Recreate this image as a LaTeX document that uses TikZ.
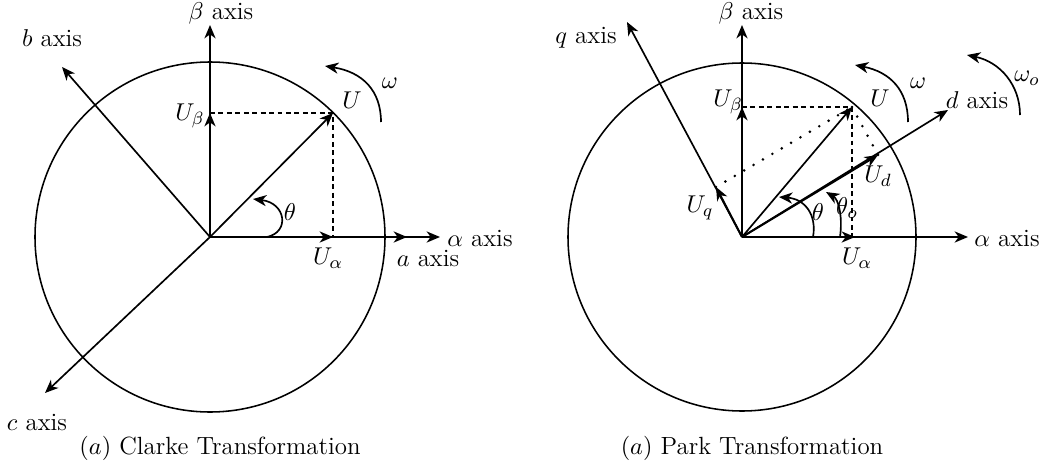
\documentclass[tikz,border=0pt]{standalone}
\usetikzlibrary{arrows.meta}
\begin{document}
\begin{tikzpicture}[x=0.45pt,y=-0.45pt,
  font=\fontsize{11.2}{13.5}\selectfont,
  vec/.style={line width=0.9pt,-{Stealth[length=6pt,width=5pt,inset=1.8pt]}},
  thinvec/.style={line width=0.75pt,-{Stealth[length=6pt,width=5pt,inset=1.8pt]}},
  ring/.style={line width=0.7pt},
  proj/.style={line width=0.55pt,dash pattern=on 2.2pt off 1.6pt},
  dotl/.style={line width=1.3pt,line cap=round,dash pattern=on 0pt off 4.9pt},
  lbl/.style={inner sep=0pt}]
\useasboundingbox (0,0) rectangle (1051,469);
% ---------------- Clarke ----------------
\coordinate (O1) at (210,237);
\coordinate (B1) at (210,25);
\coordinate (Ub1) at (210,113);
\coordinate (U1) at (333,113);
\coordinate (Ua1) at (333,237);
\coordinate (A1) at (407,237);
\coordinate (Al1) at (440,237);
\coordinate (b1) at (62,67);
\coordinate (c1) at (45,393);
\coordinate (th1s) at (267,237);
\coordinate (th1e) at (253,199);
\coordinate (w1s) at (381,122);
\coordinate (w1e) at (325,66);
\draw[ring] (O1) circle (175);
\draw[vec] (O1) -- (B1);
\draw[vec] (O1) -- (Ub1);
\draw[vec] (O1) -- (Al1);
\draw[vec] (O1) -- (A1);
\draw[vec] (O1) -- (Ua1);
\draw[thinvec] (O1) -- (U1);
\draw[thinvec] (O1) -- (b1);
\draw[thinvec] (O1) -- (c1);
\draw[proj] (Ub1) -- (U1) -- (Ua1);
\draw[thinvec] (th1s) .. controls (290,232) and (286,203) .. (th1e);
\draw[thinvec] (w1s) .. controls (381,90) and (362,72) .. (w1e);
\node[lbl] (lB1) at (221,13) {$\beta$ axis};
\node[lbl] (lb1) at (52,38) {$b$ axis};
\node[lbl] (lc1) at (37,422) {$c$ axis};
\node[lbl] (lAl1) at (480,238) {$\alpha$ axis};
\node[lbl] (lA1) at (428,258) {$a$ axis};
\node[lbl] (lUa1) at (328,258) {$U_\alpha$};
\node[lbl] (lUb1) at (190,116) {$U_\beta$};
\node[lbl] (lU1) at (352,100) {$U$};
\node[lbl] (lth1) at (290,212) {$\theta$};
\node[lbl] (lw1) at (390,83) {$\omega$};
\node[lbl] (cap1) at (220,448) {$(a)$ Clarke Transformation};
% ---------------- Park ----------------
\coordinate (O2) at (742,237);
\coordinate (B2) at (742,25);
\coordinate (Ub2) at (742,107);
\coordinate (U2) at (852,107);
\coordinate (Ua2) at (855,237);
\coordinate (F2) at (852,237);
\coordinate (Al2) at (968,237);
\coordinate (q2) at (627,22);
\coordinate (d2) at (948,110);
\coordinate (Ud2) at (878,155);
\coordinate (Uq2) at (716,187);
\coordinate (th2s) at (813,237);
\coordinate (th2e) at (779,197);
\coordinate (to2s) at (840,237);
\coordinate (to2e) at (826,192);
\coordinate (w2s) at (908,122);
\coordinate (w2e) at (855,65);
\coordinate (wo2s) at (1020,115);
\coordinate (wo2e) at (967,55);
\draw[ring] (O2) circle (174);
\draw[vec] (O2) -- (B2);
\draw[vec] (O2) -- (Ub2);
\draw[vec] (O2) -- (Al2);
\draw[vec] (O2) -- (Ua2);
\draw[thinvec] (O2) -- (U2);
\draw[thinvec] (O2) -- (q2);
\draw[thinvec] (O2) -- (d2);
\draw[vec] (O2) -- (Ud2);
\draw[vec] (O2) -- (Uq2);
\draw[proj] (Ub2) -- (U2) -- (F2);
\draw[dotl] (Uq2) -- (U2);
\draw[dotl] (U2) -- (Ud2);
\draw[thinvec] (th2s) .. controls (817,215) and (805,199) .. (th2e);
\draw[thinvec] (to2s) .. controls (843,215) and (838,199) .. (to2e);
\draw[thinvec] (w2s) .. controls (908,90) and (890,72) .. (w2e);
\draw[thinvec] (wo2s) .. controls (1020,85) and (1000,62) .. (wo2e);
\node[lbl] (lB2) at (751,13) {$\beta$ axis};
\node[lbl] (lq2) at (586,38) {$q$ axis};
\node[lbl] (ld2) at (977,100) {$d$ axis};
\node[lbl] (lAl2) at (1007,238) {$\alpha$ axis};
\node[lbl] (lUa2) at (857,258) {$U_\alpha$};
\node[lbl] (lUb2) at (728,102) {$U_\beta$};
\node[lbl] (lU2) at (880,98) {$U$};
\node[lbl] (lUd2) at (878,176) {$U_d$};
\node[lbl] (lUq2) at (700,208) {$U_q$};
\node[lbl] (lth2) at (818,212) {$\theta$};
\node[lbl] (lto2) at (847,208) {$\theta_o$};
\node[lbl] (lw2) at (918,83) {$\omega$};
\node[lbl] (lwo2) at (1027,78) {$\omega_o$};
\node[lbl] (cap2) at (752,448) {$(a)$ Park Transformation};
\end{tikzpicture}
\end{document}
